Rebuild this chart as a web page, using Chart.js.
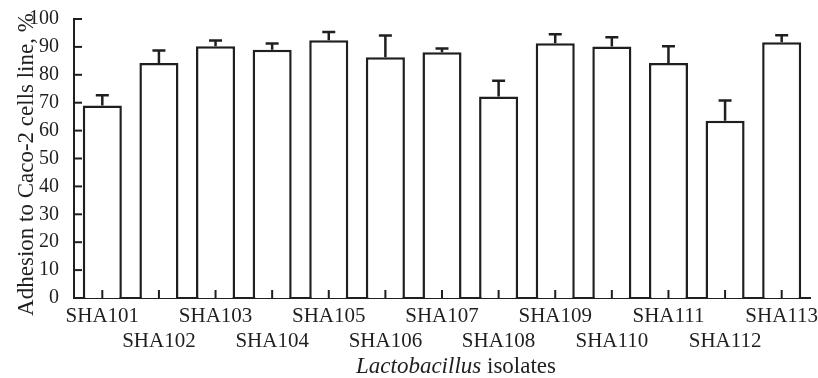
<!DOCTYPE html>
<html>
<head>
<meta charset="utf-8">
<script src="https://cdn.jsdelivr.net/npm/chart.js@4.4.0/dist/chart.umd.min.js"></script>
<style>
  html, body { margin: 0; padding: 0; background: #fff; }
  #wrap { width: 818px; height: 378px; }
</style>
</head>
<body>
<div id="wrap"><canvas id="myChart"></canvas></div>
<script>
const isolates = ['SHA101','SHA102','SHA103','SHA104','SHA105','SHA106','SHA107',
                  'SHA108','SHA109','SHA110','SHA111','SHA112','SHA113'];
const adhesion = [69.0, 84.2, 90.2, 89.0, 92.4, 86.3, 88.1, 72.2, 91.3, 90.1, 84.2, 63.5, 91.7];
const errors = [3.7, 4.5, 2.1, 2.2, 2.9, 7.8, 1.3, 5.7, 3.2, 3.4, 6.0, 7.3, 2.5];
const yMin = 0, yMax = 100, yStep = 10;

const ink = '#1f1f1f';
const serif = "'Liberation Serif', 'Times New Roman', serif";

// error bars, inside ticks and the two axis titles
const extras = {
    id: 'extras',
    afterDatasetsDraw(chart) {
        const ctx = chart.ctx;
        const x = chart.scales.x, y = chart.scales.y;
        ctx.save();
        ctx.strokeStyle = ink;
        ctx.lineWidth = 2.5;
        adhesion.forEach((v, i) => {
            const px = x.getPixelForValue(i);
            const top = y.getPixelForValue(v);
            const cap = y.getPixelForValue(v + errors[i]);
            ctx.beginPath();
            ctx.moveTo(px, top);
            ctx.lineTo(px, cap);
            ctx.moveTo(px - 6.5, cap);
            ctx.lineTo(px + 6.5, cap);
            ctx.stroke();
        });

        ctx.lineWidth = 2;
        y.ticks.forEach((t, i) => {
            const py = y.getPixelForTick(i);
            ctx.beginPath();
            ctx.moveTo(y.right, py);
            ctx.lineTo(y.right + 8, py);
            ctx.stroke();
        });
        x.ticks.forEach((t, i) => {
            const px = x.getPixelForTick(i);
            ctx.beginPath();
            ctx.moveTo(px, x.top);
            ctx.lineTo(px, x.top - 8);
            ctx.stroke();
        });

        // x title, italic genus name
        ctx.fillStyle = ink;
        ctx.textBaseline = 'alphabetic';
        ctx.textAlign = 'left';
        const a = 'Lactobacillus', b = ' isolates';
        ctx.font = 'italic 23px ' + serif;
        const wa = ctx.measureText(a).width;
        ctx.font = '23px ' + serif;
        const wb = ctx.measureText(b).width;
        const cx = (chart.chartArea.left + chart.chartArea.right) / 2 + 14;
        let sx = cx - (wa + wb) / 2;
        ctx.font = 'italic 23px ' + serif;
        ctx.fillText(a, sx, 373);
        ctx.font = '23px ' + serif;
        ctx.fillText(b, sx + wa, 373);

        // y title
        ctx.translate(33, (chart.chartArea.top + chart.chartArea.bottom) / 2 + 6);
        ctx.rotate(-Math.PI / 2);
        ctx.textAlign = 'center';
        ctx.font = '23px ' + serif;
        ctx.fillText('Adhesion to Caco-2 cells line, %', 0, 0);
        ctx.restore();
    }
};

var ctx = document.getElementById('myChart').getContext('2d');
var chart = new Chart(ctx, {
    type: 'bar',
    data: {
        labels: isolates,
        datasets: [{
            data: adhesion,
            backgroundColor: '#ffffff',
            borderColor: ink,
            borderWidth: 2.5,
            barPercentage: 0.69,
            categoryPercentage: 1
        }]
    },
    options: {
        responsive: true,
        maintainAspectRatio: false,
        animation: false,
        devicePixelRatio: 1,
        layout: { padding: { top: 19, right: 8, left: 0, bottom: 0 } },
        plugins: {
            legend: { display: false },
            tooltip: { enabled: false },
            title: { display: false }
        },
        scales: {
            x: {
                grid: { display: false },
                border: { display: true, color: ink, width: 2 },
                ticks: {
                    color: ink,
                    font: { family: serif, size: 21, lineHeight: '25px' },
                    padding: -2,
                    maxRotation: 0,
                    minRotation: 0,
                    autoSkip: false,
                    callback: (v, i) => i % 2 ? ['', isolates[i]] : isolates[i]
                },
                afterFit: s => { s.height = 80; }
            },
            y: {
                min: yMin,
                max: yMax,
                grid: { display: false },
                border: { display: true, color: ink, width: 2 },
                ticks: {
                    stepSize: yStep,
                    color: ink,
                    font: { family: serif, size: 20 },
                    padding: 7
                },
                afterFit: s => { s.width = 74; }
            }
        }
    },
    plugins: [extras]
});
</script>
</body>
</html>
